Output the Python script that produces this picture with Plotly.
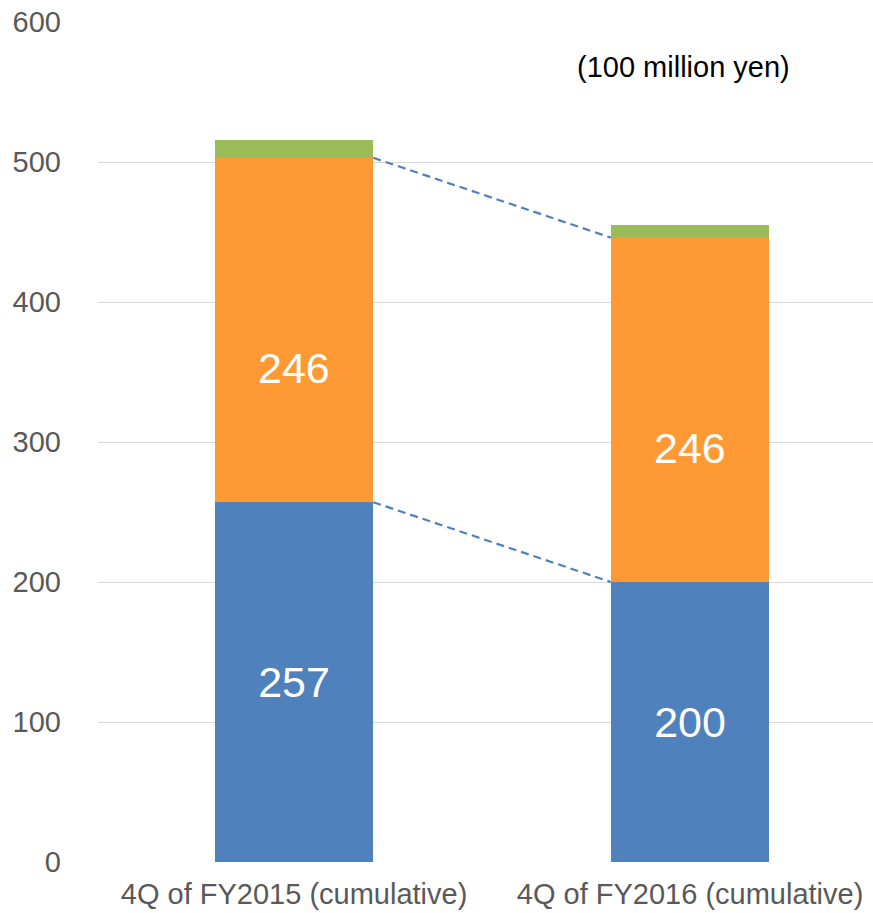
import plotly.graph_objects as go

categories = ["4Q of FY2015 (cumulative)", "4Q of FY2016 (cumulative)"]
blue_vals = [257, 200]
orange_vals = [246, 246]
green_vals = [13, 9]
unit_label = "(100 million yen)"
y_ticks = [0, 100, 200, 300, 400, 500, 600]

BLUE = "#4F81BD"
ORANGE = "#FF9933"
GREEN = "#9BBB59"
FONT = "Liberation Sans, Arial, sans-serif"
BAR_W = 0.4

x_pos = list(range(len(categories)))

fig = go.Figure()
fig.add_trace(go.Bar(
    x=x_pos, y=blue_vals, width=BAR_W, marker=dict(color=BLUE, line=dict(width=0)),
    text=[str(v) for v in blue_vals], textposition="inside", insidetextanchor="middle",
    textfont=dict(color="white", size=43, family=FONT), textangle=0,
    name="blue", showlegend=False,
))
fig.add_trace(go.Bar(
    x=x_pos, y=orange_vals, width=BAR_W, marker=dict(color=ORANGE, line=dict(width=0)),
    name="orange", showlegend=False,
))
fig.add_trace(go.Bar(
    x=x_pos, y=green_vals, width=BAR_W, marker=dict(color=GREEN, line=dict(width=0)),
    name="green", showlegend=False,
))

# orange segment labels, placed a little below the segment middle
for i, (b, o) in enumerate(zip(blue_vals, orange_vals)):
    fig.add_annotation(x=i, y=b + 0.39 * o, text=str(o), showarrow=False,
                       font=dict(color="white", size=43, family=FONT))

# dashed connectors between the segment boundaries of the two bars
for tops in ([blue_vals[0], blue_vals[1]],
             [blue_vals[0] + orange_vals[0], blue_vals[1] + orange_vals[1]]):
    fig.add_shape(type="line", xref="x", yref="y",
                  x0=x_pos[0] + BAR_W / 2, y0=tops[0],
                  x1=x_pos[1] - BAR_W / 2, y1=tops[1],
                  line=dict(color=BLUE, width=2.2, dash="8px,5px"))

fig.add_annotation(x=0.755, xref="paper", xanchor="center",
                   y=(862 - 67) / 840 * 600, yref="y", yanchor="middle",
                   text=unit_label, showarrow=False,
                   font=dict(color="black", size=29, family=FONT))

fig.update_layout(
    barmode="stack",
    width=873, height=913,
    margin=dict(l=98, r=0, t=22, b=51),
    paper_bgcolor="white", plot_bgcolor="white",
    font=dict(family=FONT, size=29, color="#595959"),
    xaxis=dict(tickmode="array", tickvals=x_pos, ticktext=categories,
               range=[-0.495, 1.462], showgrid=False, zeroline=False,
               showline=False, ticks="", ticklen=0, ticklabelstandoff=12,
               tickfont=dict(size=29, color="#595959")),
    yaxis=dict(range=[0, 600], tickvals=y_ticks, showgrid=True,
               gridcolor="#D9D9D9", gridwidth=1.3, zeroline=False,
               showline=False, ticks="", ticklabelstandoff=36,
               tickfont=dict(size=29, color="#595959")),
)

fig.write_html("out.html")
